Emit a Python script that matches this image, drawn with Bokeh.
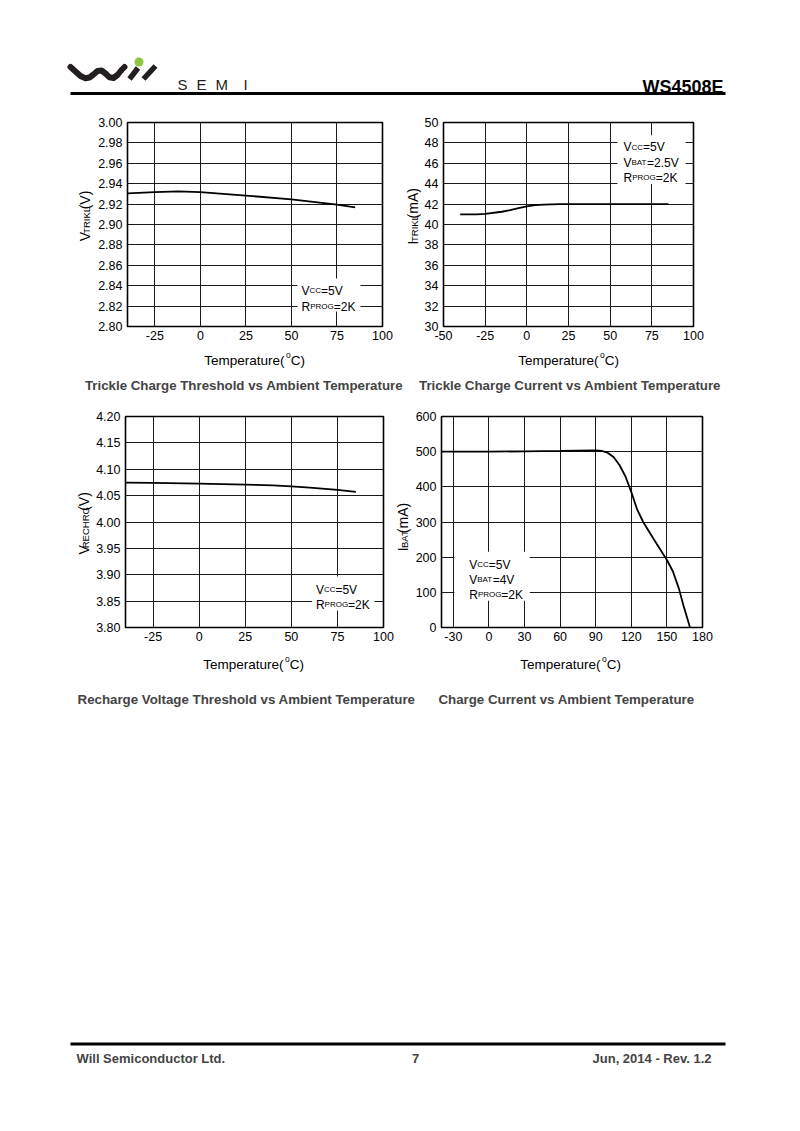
import math
from bokeh.plotting import figure
from bokeh.models import Range1d, FixedTicker, Label, BoxAnnotation, Spacer, NumeralTickFormatter
from bokeh.layouts import column, row
from bokeh.embed import file_html
from bokeh.resources import INLINE

FONT = "Liberation Sans"

# ---------------- data ----------------
temp_vtrikl = [-40, -25, -12, 0, 25, 50, 75, 85]
vtrikl = [2.9305, 2.9318, 2.9325, 2.9318, 2.9284, 2.9246, 2.9194, 2.9167]

temp_itrikl = [-40, -30, -25, -15, -10, -5, 0, 5, 10, 20, 25, 50, 75, 85]
itrikl = [41.0, 41.0, 41.05, 41.25, 41.42, 41.6, 41.77, 41.9, 41.95, 42.0, 42.0, 42.0, 42.0, 42.0]

temp_vrechrg = [-40, -25, 0, 25, 40, 50, 60, 75, 85]
vrechrg = [4.0747, 4.0740, 4.0728, 4.0709, 4.0696, 4.0677, 4.0650, 4.0608, 4.0572]

temp_ibat = [-40, -20, 0, 30, 60, 90, 95, 100, 105, 110, 115, 120, 125, 130, 140, 150, 155, 160, 164, 169.5]
ibat = [500, 500, 500, 501, 502, 503.5, 502, 497, 485, 462, 430, 385, 335, 300, 245, 192, 160, 112, 62, 0]

xticks_a = [-25, 0, 25, 50, 75, 100]
xticks_b = [-50, -25, 0, 25, 50, 75, 100]
xticks_c = [-30, 0, 30, 60, 90, 120, 150, 180]
yticks_vtrikl = [2.80, 2.82, 2.84, 2.86, 2.88, 2.90, 2.92, 2.94, 2.96, 2.98, 3.00]
yticks_itrikl = [30, 32, 34, 36, 38, 40, 42, 44, 46, 48, 50]
yticks_vrechrg = [3.80, 3.85, 3.90, 3.95, 4.00, 4.05, 4.10, 4.15, 4.20]
yticks_ibat = [0, 100, 200, 300, 400, 500, 600]

captions = ["Trickle Charge Threshold vs Ambient Temperature",
            "Trickle Charge Current vs Ambient Temperature",
            "Recharge Voltage Threshold vs Ambient Temperature",
            "Charge Current vs Ambient Temperature"]

# ---------------- helpers ----------------
CW = {' ': 278, '(': 333, ')': 333, '.': 278, '=': 584, 'A': 667, 'B': 667, 'C': 722,
      'E': 667, 'G': 778, 'H': 722, 'I': 278, 'K': 667, 'L': 556, 'O': 778, 'P': 667,
      'R': 722, 'T': 611, 'V': 667, 'a': 556, 'e': 556, 'm': 833, 'p': 556, 'r': 333,
      't': 278, 'u': 556, 'o': 556}


def tw(s, size):
    return sum(CW.get(c, 556) for c in s) / 1000.0 * size


def to_data(fr, X, Y):
    x = fr["x0"] + (X - fr["L"]) / (fr["R"] - fr["L"]) * (fr["x1"] - fr["x0"])
    y = fr["y1"] - (Y - fr["T"]) / (fr["B"] - fr["T"]) * (fr["y1"] - fr["y0"])
    return x, y


def rich_h(p, fr, X, Ybase, parts, align="left"):
    total = sum(tw(pt[0], pt[1]) for pt in parts)
    if align == "center":
        X -= total / 2
    for pt in parts:
        s, sz = pt[0], pt[1]
        dy = pt[2] if len(pt) > 2 else 0
        x, y = to_data(fr, X, Ybase - dy)
        p.add_layout(Label(x=x, y=y, text=s, text_font=FONT, text_font_size=f"{sz}px",
                           text_align="left", text_baseline="alphabetic", text_color="black"))
        X += tw(s, sz)


def rich_v(p, fr, Xbase, Ycenter, parts, gap=0.8):
    """Vertical text reading bottom-to-top; each part centred on its own slot,
    shifted so that all parts share a common baseline at Xbase."""
    total = sum(tw(s, sz) for s, sz in parts) + gap * (len(parts) - 1)
    Y = Ycenter + total / 2
    for s, sz in parts:
        w = tw(s, sz)
        yc = Y - w / 2
        xc = Xbase - 0.35 * sz
        x, y = to_data(fr, xc, yc)
        p.add_layout(Label(x=x, y=y, text=s, angle=math.pi / 2, text_font=FONT,
                           text_font_size=f"{sz}px", text_align="center",
                           text_baseline="middle", text_color="black"))
        Y -= w + gap


def chart(fig_x, fig_y, fig_w, fig_h, fr, xs, ys, xticks, yticks, yfmt):
    p = figure(width=fig_w, height=fig_h,
               x_range=Range1d(fr["x0"], fr["x1"]), y_range=Range1d(fr["y0"], fr["y1"]),
               output_backend="svg", toolbar_location=None,
               min_border_left=fr["L"] - fig_x, min_border_right=fig_x + fig_w - fr["R"],
               min_border_top=fr["T"] - fig_y, min_border_bottom=fig_y + fig_h - fr["B"],
               background_fill_color="white", border_fill_color="white")
    p.outline_line_color = "black"
    p.outline_line_width = 1.6
    p.xaxis.ticker = FixedTicker(ticks=xticks)
    p.yaxis.ticker = FixedTicker(ticks=yticks)
    p.yaxis.formatter = NumeralTickFormatter(format=yfmt)
    p.xaxis.formatter = NumeralTickFormatter(format="0")
    for ax in (p.xaxis, p.yaxis):
        ax.axis_line_color = None
        ax.major_tick_line_color = None
        ax.minor_tick_line_color = None
        ax.major_tick_in = 0
        ax.major_tick_out = 0
        ax.minor_tick_in = 0
        ax.minor_tick_out = 0
        ax.major_label_text_font = FONT
        ax.major_label_text_font_size = "12.5px"
        ax.major_label_text_color = "black"
    p.xaxis.major_label_standoff = 4
    p.yaxis.major_label_standoff = 5
    p.grid.grid_line_color = "#1a1a1a"
    p.grid.grid_line_width = 1
    p.grid.grid_line_alpha = 1
    p.line(xs, ys, line_color="black", line_width=1.8)
    return p


def add_box(p, fr, X0, X1, Y0, Y1):
    l, t = to_data(fr, X0, Y0)
    r, b = to_data(fr, X1, Y1)
    p.add_layout(BoxAnnotation(left=l, right=r, top=t, bottom=b, fill_color="white",
                               fill_alpha=1, line_color=None))


def temp_label(p, fr, Xc, Ybase):
    rich_h(p, fr, Xc, Ybase, [("Temperature(", 13.5), ("o", 8.5, 5.5), ("C)", 13.5)], align="center")


def blank(x_left, w, y_top, y_bottom):
    p = figure(width=w, height=y_bottom - y_top, x_range=Range1d(x_left, x_left + w),
               y_range=Range1d(y_bottom, y_top), x_axis_location=None, y_axis_location=None,
               min_border=0, output_backend="svg", toolbar_location=None,
               background_fill_color="white", border_fill_color="white")
    p.outline_line_color = None
    p.grid.visible = False
    fr = dict(L=x_left, R=x_left + w, T=y_top, B=y_bottom,
              x0=x_left, x1=x_left + w, y0=y_bottom, y1=y_top)
    return p, fr


SUB = 9.5
MAIN = 12
Y_MAIN = 14

# ---------------- row 1 (page y 110..347) ----------------
fr1 = dict(L=127, R=382, T=122, B=326, x0=-40, x1=100, y0=2.80, y1=3.00)
p1 = chart(94, 110, 302, 237, fr1, temp_vtrikl, vtrikl, xticks_a, yticks_vtrikl, "0.00")
add_box(p1, fr1, 297, 360, 278, 311)
rich_h(p1, fr1, 301, 290, [("V", MAIN), ("CC", 8), ("=5V", MAIN)])
rich_h(p1, fr1, 301, 306, [("R", MAIN), ("PROG", 8), ("=2K", MAIN)])

fr2 = dict(L=443, R=693, T=120, B=326, x0=-50, x1=100, y0=30, y1=50)
p2 = chart(421, 110, 371, 237, fr2, temp_itrikl, itrikl, xticks_b, yticks_itrikl, "0")
add_box(p2, fr2, 617, 685, 133, 182)
rich_h(p2, fr2, 623, 145, [("V", MAIN), ("CC", 8), ("=5V", MAIN)])
rich_h(p2, fr2, 623, 160.5, [("V", MAIN), ("BAT", 8), ("=2.5V", MAIN)])
rich_h(p2, fr2, 623, 176, [("R", MAIN), ("PROG", 8), ("=2K", MAIN)])

lab1, lf1 = blank(8, 86, 110, 347)
rich_v(lab1, lf1, 89.5, 219, [("V", Y_MAIN), ("TRIKL", SUB), ("(V)", Y_MAIN)])
lab2, lf2 = blank(396, 25, 110, 347)
rich_v(lab2, lf2, 417.5, 220, [("I", Y_MAIN), ("TRIKL", SUB), ("(mA)", Y_MAIN)])

strip1, sf1 = blank(8, 784, 347, 400)
temp_label(strip1, sf1, 254, 360)
temp_label(strip1, sf1, 568, 359.5)
strip1.add_layout(Label(x=243.5, y=384.5, text=captions[0], text_font=FONT, text_font_size="13.3px",
                        text_font_style="bold", text_align="center", text_baseline="alphabetic"))
strip1.add_layout(Label(x=569.5, y=384.5, text=captions[1], text_font=FONT, text_font_size="13.3px",
                        text_font_style="bold", text_align="center", text_baseline="alphabetic"))

# ---------------- row 2 (page y 400..648) ----------------
fr3 = dict(L=123, R=383, T=416, B=627, x0=-40, x1=100, y0=3.80, y1=4.20)
p3 = chart(93, 400, 301, 248, fr3, temp_vrechrg, vrechrg, xticks_a, yticks_vrechrg, "0.00")
add_box(p3, fr3, 311, 374, 576, 610)
rich_h(p3, fr3, 315, 589, [("V", MAIN), ("CC", 8), ("=5V", MAIN)])
rich_h(p3, fr3, 315, 604, [("R", MAIN), ("PROG", 8), ("=2K", MAIN)])

fr4 = dict(L=439, R=702, T=415, B=627, x0=-40, x1=180, y0=0, y1=600)
p4 = chart(412, 400, 380, 248, fr4, temp_ibat, ibat, xticks_c, yticks_ibat, "0")
add_box(p4, fr4, 452, 528, 551, 600)
rich_h(p4, fr4, 467, 564, [("V", MAIN), ("CC", 8), ("=5V", MAIN)])
rich_h(p4, fr4, 467, 579, [("V", MAIN), ("BAT", 8), ("=4V", MAIN)])
rich_h(p4, fr4, 467, 594, [("R", MAIN), ("PROG", 8), ("=2K", MAIN)])

lab3, lf3 = blank(8, 85, 400, 648)
rich_v(lab3, lf3, 88.5, 526, [("V", Y_MAIN), ("RECHRG", SUB), ("(V)", Y_MAIN)])
lab4, lf4 = blank(394, 18, 400, 648)
rich_v(lab4, lf4, 407.5, 529, [("I", Y_MAIN), ("BAT", SUB), (" (mA)", Y_MAIN)])

strip2, sf2 = blank(8, 784, 648, 720)
temp_label(strip2, sf2, 253, 664)
temp_label(strip2, sf2, 570, 664)
strip2.add_layout(Label(x=246, y=698.5, text=captions[2], text_font=FONT, text_font_size="13.3px",
                        text_font_style="bold", text_align="center", text_baseline="alphabetic"))
strip2.add_layout(Label(x=566, y=698.5, text=captions[3], text_font=FONT, text_font_size="13.3px",
                        text_font_style="bold", text_align="center", text_baseline="alphabetic"))

# ---------------- header ----------------
hdr, _ = blank(8, 784, 8, 110)
hdr.line([70, 75, 80, 85, 89, 93, 97, 101, 105, 109, 113, 117, 121, 124],
         [66.5, 71, 75.5, 77.8, 77, 74, 70.5, 70, 73, 76.8, 77.5, 74.5, 69.5, 66.5],
         line_width=6, line_color="#231f20", line_cap="round", line_join="round")
hdr.line([129, 137.5], [78.5, 67.5], line_width=5.5, line_color="#231f20")
hdr.line([143, 155], [78.5, 65.5], line_width=5.5, line_color="#231f20")
hdr.scatter([138.5], [61.5], size=9, color="#8dc63f", line_color=None)
for ch, xx in zip(["S", "E", "M", "I"], [177, 196, 215, 243]):
    hdr.add_layout(Label(x=xx, y=84, text=ch, text_font=FONT, text_font_size="15px",
                         text_align="left", text_baseline="alphabetic", text_color="#231f20"))
hdr.add_layout(Label(x=723, y=86, text="WS4508E", text_font=FONT, text_font_size="18px",
                     text_font_style="bold", text_align="right", text_baseline="alphabetic",
                     text_color="black"))
hdr.segment(x0=[70], y0=[93], x1=[725], y1=[93], line_width=3, line_color="black")

# ---------------- footer ----------------
ftr, _ = blank(8, 784, 1030, 1123)
ftr.segment(x0=[70], y0=[1043.5], x1=[725], y1=[1043.5], line_width=3, line_color="black")
ftr.add_layout(Label(x=76, y=1058, text="Will Semiconductor Ltd.", text_font=FONT,
                     text_font_size="13px", text_font_style="bold", text_align="left",
                     text_baseline="alphabetic"))
ftr.add_layout(Label(x=415, y=1058, text="7", text_font=FONT, text_font_size="13px",
                     text_font_style="bold", text_align="center", text_baseline="alphabetic"))
ftr.add_layout(Label(x=711, y=1058, text="Jun, 2014 - Rev. 1.2", text_font=FONT,
                     text_font_size="13px", text_font_style="bold", text_align="right",
                     text_baseline="alphabetic"))

content = column(hdr,
                 row(lab1, p1, lab2, p2),
                 strip1,
                 row(lab3, p3, lab4, p4),
                 strip2,
                 Spacer(width=784, height=310),
                 ftr)
layout = column(Spacer(width=792, height=8), row(Spacer(width=8, height=1115), content))

open("out.html", "w").write(file_html(layout, INLINE))
